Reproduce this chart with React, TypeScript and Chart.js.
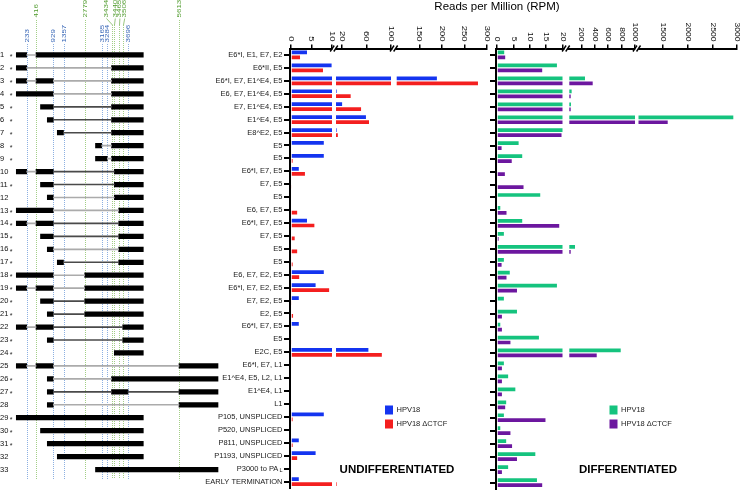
import React, { useEffect, useRef } from "react";
import { Chart, registerables } from "chart.js";

Chart.register(...registerables);

// ---------------- DATA ----------------
const ROW_LABELS = [
  "E6*I, E1, E7, E2", "E6*II, E5", "E6*I, E7, E1^E4, E5", "E6, E7, E1^E4, E5",
  "E7, E1^E4, E5", "E1^E4, E5", "E8^E2, E5", "E5", "E5", "E6*I, E7, E5", "E7, E5",
  "E5", "E6, E7, E5", "E6*I, E7, E5", "E7, E5", "E5", "E5", "E6, E7, E2, E5",
  "E6*I, E7, E2, E5", "E7, E2, E5", "E2, E5", "E6*I, E7, E5", "E5", "E2C, E5",
  "E6*I, E7, L1", "E1^E4, E5, L2, L1", "E1^E4, L1", "L1", "P105, UNSPLICED",
  "P520, UNSPLICED", "P811, UNSPLICED", "P1193, UNSPLICED", "P3000 to PA",
  "EARLY TERMINATION",
];
// subscript appended to a row label
const ROW_SUBSCRIPTS = [
  "", "", "", "", "", "", "", "", "", "", "", "", "", "", "", "", "",
  "", "", "", "", "", "", "", "", "", "", "", "", "", "", "", "L", "",
];
const ROW_NUMBERS = [
  "1", "2", "3", "4", "5", "6", "7", "8", "9", "10", "11", "12", "13", "14", "15", "16", "17",
  "18", "19", "20", "21", "22", "23", "24", "25", "26", "27", "28", "29", "30", "31", "32", "33", "",
];
const ROW_STARRED = [1, 1, 1, 1, 1, 1, 1, 1, 1, 0, 1, 0, 1, 1, 1, 1, 1, 1, 1, 1, 1, 0, 1, 1, 0, 1, 1, 0, 1, 1, 1, 0, 0, 0];

const SERIES_NAMES = ["HPV18", "HPV18 \u0394CTCF"];

const UNDIFF_HPV18 = [3.9, 9.9, 189, 11, 20, 59, 11, 8, 8, 1.9, 0, 0, 0, 3.9, 0, 0, 0, 8, 6, 1.9, 0, 1.9, 0, 63, 0, 0, 0, 0, 8, 0, 1.9, 6, 0, 1.9];
const UNDIFF_DCTCF = [2.2, 7.8, 280, 34, 51, 64, 13, 0, 0.4, 3.4, 0.2, 0, 1.5, 5.7, 0.9, 1.5, 0.4, 2, 9.3, 0.2, 0.5, 0, 0.2, 85, 0, 0, 0, 0, 0.4, 0, 0.4, 1.5, 0, 11];
const DIFF_HPV18 = [2.2, 18.3, 254, 55, 45, 2925, 20, 6.6, 7.7, 0, 0, 13.2, 1, 7.7, 2.1, 105, 2.1, 3.9, 18.3, 2.1, 6.1, 1, 12.8, 787, 2.1, 3.4, 5.6, 2.8, 2.1, 1, 2.8, 11.7, 3.4, 12.2];
const DIFF_DCTCF = [2.5, 13.8, 369, 41, 41, 1593, 19.7, 1.4, 4.5, 2.4, 8.1, 0, 2.9, 19, 0.5, 41, 1.4, 2.9, 6.1, 0, 1.5, 1.5, 4.1, 429, 1.5, 1.5, 1.5, 2.5, 14.8, 4.1, 4.6, 6.1, 1.5, 13.8];

const UNDIFF_TICKS = [0, 5, 10, 20, 60, 100, 150, 200, 250, 300];
const DIFF_TICKS = [0, 5, 10, 15, 20, 200, 400, 600, 800, 1000, 1500, 2000, 2500, 3000];

// splice sites (genome coordinates)
const SITES_BLUE = [233, 929, 1357, 3165, 3284, 3696];
const SITES_GREEN = [416, 2779, 3434, 3440, 3465, 3506, 5613];

// exons of each transcript (genome coordinates)
const EXONS: number[][][] = [
  [[105, 233], [416, 4270]],
  [[105, 233], [3434, 4270]],
  [[105, 233], [416, 929], [3434, 4270]],
  [[105, 929], [3434, 4270]],
  [[520, 929], [3434, 4270]],
  [[811, 929], [3434, 4270]],
  [[1193, 1357], [3434, 4270]],
  [[3000, 3165], [3434, 4270]],
  [[3000, 3284], [3434, 4270]],
  [[105, 233], [416, 929], [3440, 4270]],
  [[520, 929], [3440, 4270]],
  [[811, 929], [3440, 4270]],
  [[105, 929], [3465, 4270]],
  [[105, 233], [416, 929], [3465, 4270]],
  [[520, 929], [3465, 4270]],
  [[811, 929], [3465, 4270]],
  [[1193, 1357], [3465, 4270]],
  [[105, 929], [2779, 4270]],
  [[105, 233], [416, 929], [2779, 4270]],
  [[520, 929], [2779, 4270]],
  [[811, 929], [2779, 4270]],
  [[105, 233], [416, 929], [3506, 4270]],
  [[811, 929], [3506, 4270]],
  [[3440, 4270]],
  [[105, 233], [416, 929], [5613, 7299]],
  [[811, 929], [3434, 7299]],
  [[811, 929], [3434, 3696], [5613, 7299]],
  [[811, 929], [5613, 7299]],
  [[105, 4270]],
  [[520, 4270]],
  [[811, 4270]],
  [[1193, 4270]],
  [[3000, 7299]],
];
// intron class per transcript ('a' light, 'b' dark)
const INTRON_CLASS: string[][] = [
  ["a"], ["a"], ["a", "a"], ["a"], ["b"], ["b"], ["b"], ["a"], ["a"], ["a", "b"], ["b"],
  ["a"], ["a"], ["a", "b"], ["b"], ["a"], ["b"], ["a"], ["a", "a"], ["b"], ["b"], ["a", "b"],
  ["b"], [], ["a", "a"], ["a"], ["b", "b"], ["a"], [], [], [], [], [],
];

// ---------------- STYLE / AXIS CONFIG ----------------
const FONT = '"Liberation Sans", Arial, Helvetica, sans-serif';
const C_BLUE = "#1434f0";
const C_RED = "#f41f1f";
const C_GREEN = "#15c37e";
const C_PURPLE = "#6c179f";

// schematic (non-linear) genome axis of the transcript map
const SCHEM_GENOME = [105, 233, 416, 520, 811, 929, 1193, 1357, 2779, 3000, 3165, 3284, 3434, 3440, 3465, 3506, 3696, 4270, 5613, 7299];
const SCHEM_UNIT = [16.3, 26.7, 36, 40.5, 47.3, 53.3, 57.3, 63.5, 84.7, 95.5, 101.7, 107.3, 111.5, 114.3, 118.7, 122.7, 128, 143.3, 179, 218];

function schematic(g: number): number {
  const G = SCHEM_GENOME, P = SCHEM_UNIT;
  if (g <= G[0]) return P[0];
  for (let i = 1; i < G.length; i++) {
    if (g <= G[i]) return P[i - 1] + ((g - G[i - 1]) / (G[i] - G[i - 1])) * (P[i] - P[i - 1]);
  }
  return P[P.length - 1];
}

type Seg = { lo: number; hi: number; a: number; b: number };
const UNDIFF_AXIS: Seg[] = [
  { lo: 0, hi: 10, a: 0, b: 41 },
  { lo: 10, hi: 100, a: 45, b: 100 },
  { lo: 100, hi: 300, a: 105.7, b: 196 },
];
const DIFF_AXIS: Seg[] = [
  { lo: 0, hi: 20, a: 0, b: 65.5 },
  { lo: 20, hi: 1000, a: 72.3, b: 138 },
  { lo: 1000, hi: 3000, a: 141.5, b: 240 },
];

function brokenPos(segs: Seg[], v: number): number {
  for (const s of segs) {
    if (v <= s.hi) return s.a + ((v - s.lo) / (s.hi - s.lo)) * (s.b - s.a);
  }
  return segs[segs.length - 1].b;
}
function pieces(segs: Seg[], values: number[], k: number) {
  const s = segs[k];
  return values.map((v) =>
    v > s.lo ? [s.a, s.a + ((Math.min(v, s.hi) - s.lo) / (s.hi - s.lo)) * (s.b - s.a)] : null
  );
}

// ---------------- CHART CONFIGS ----------------
const LEADER_SHIFT: Record<number, number> = { 3434: -5.5, 3440: 0.5, 3465: 0.7, 3506: 1.5 };

function diagramConfig(): any {
  const datasets: any[] = [];
  for (let k = 0; k < 2; k++) {
    datasets.push({
      data: [...EXONS.map((ex) => (ex[k + 1] ? [schematic(ex[k][1]), schematic(ex[k + 1][0])] : null)), null],
      backgroundColor: EXONS.map((_, i) => (INTRON_CLASS[i][k] === "b" ? "#4a4a4a" : "#ababab")),
      maxBarThickness: 1,
    });
  }
  for (let k = 0; k < 3; k++) {
    datasets.push({
      data: [...EXONS.map((ex) => (ex[k] ? [schematic(ex[k][0]), schematic(ex[k][1])] : null)), null],
      backgroundColor: "#000",
      maxBarThickness: 4.6,
    });
  }

  const sitePlugin = {
    id: "siteMarks",
    beforeDatasetsDraw(chart: any) {
      const { ctx } = chart;
      const xs = chart.scales.x;
      ctx.save();
      ctx.lineWidth = 1;
      ctx.setLineDash([1, 1]);
      SITES_BLUE.forEach((s) => {
        const px = Math.round(xs.getPixelForValue(schematic(s))) + 0.5;
        ctx.strokeStyle = "#8cb0e2";
        ctx.beginPath();
        ctx.moveTo(px, 44);
        ctx.lineTo(px, 479);
        ctx.stroke();
      });
      SITES_GREEN.forEach((s) => {
        const px = Math.round(xs.getPixelForValue(schematic(s))) + 0.5;
        ctx.strokeStyle = "#a3cf86";
        ctx.beginPath();
        ctx.moveTo(px, LEADER_SHIFT[s] !== undefined ? 25 : 20);
        ctx.lineTo(px, 479);
        ctx.stroke();
      });
      ctx.restore();
    },
    afterDraw(chart: any) {
      const { ctx } = chart;
      const xs = chart.scales.x;
      const ys = chart.scales.y;
      ctx.save();
      ctx.font = `8px ${FONT}`;
      const drawUp = (txt: string, x: number, yb: number, color: string) => {
        ctx.save();
        ctx.translate(x, yb);
        ctx.rotate(-Math.PI / 2);
        ctx.scale(1, 0.72);
        ctx.fillStyle = color;
        ctx.textAlign = "left";
        ctx.textBaseline = "middle";
        ctx.fillText(txt, 0, 0);
        ctx.restore();
      };
      SITES_BLUE.forEach((s) => {
        const px = xs.getPixelForValue(schematic(s));
        drawUp(String(s), px + 0.5, 42.5, "#3262b4");
      });
      SITES_GREEN.forEach((s) => {
        const px = xs.getPixelForValue(schematic(s));
        const shift = LEADER_SHIFT[s];
        if (shift !== undefined) {
          drawUp(String(s), px + shift + 0.5, 17.5, "#4e9a2b");
          ctx.strokeStyle = "#7fb85f";
          ctx.lineWidth = 0.8;
          ctx.beginPath();
          ctx.moveTo(px + shift + 0.5, 18.5);
          ctx.lineTo(Math.round(px) + 0.5, 25);
          ctx.stroke();
        } else {
          drawUp(String(s), px + 0.5, 17.5, "#4e9a2b");
        }
      });
      // asterisks marking rows
      ctx.fillStyle = "#222";
      ctx.textAlign = "center";
      ctx.textBaseline = "alphabetic";
      ctx.font = `7px ${FONT}`;
      ROW_STARRED.forEach((st, i) => {
        if (!st) return;
        const y = ys.getPixelForValue(i);
        ctx.fillText("*", 11, y + 4.2);
      });
      ctx.restore();
    },
  };

  return {
    type: "bar",
    data: { labels: ROW_NUMBERS, datasets },
    options: {
      indexAxis: "y",
      responsive: false,
      animation: false,
      events: [],
      layout: { padding: { left: 0, top: 48.5, right: 520, bottom: 5 } },
      datasets: { bar: { grouped: false, categoryPercentage: 1, barPercentage: 1, borderWidth: 0 } },
      plugins: { legend: { display: false }, tooltip: { enabled: false } },
      scales: {
        x: { type: "linear", display: false, min: 14, max: 220, bounds: "data", stacked: false },
        y: {
          type: "category",
          offset: true,
          grid: { display: false, drawTicks: false },
          border: { display: false },
          ticks: { autoSkip: false, crossAlign: "far", padding: 0, font: { family: FONT, size: 7.5 }, color: "#111" },
          afterFit: (s: any) => {
            s.width = 14;
          },
        },
      },
    },
    plugins: [sitePlugin],
  };
}

type BrokenOpts = {
  segs: Seg[];
  ticks: number[];
  tickFont: number;
  values: number[][];
  colors: string[];
  yWidth: number;
  xMax: number;
  showLabels: boolean;
  legendX: number;
  panel: string;
  panelX: number;
  title?: string;
};

const Y_TICK_LEN = 6;
const Y_TICK_PAD = 1.5;

function brokenConfig(o: BrokenOpts): any {
  const datasets: any[] = [];
  o.values.forEach((vals, si) => {
    o.segs.forEach((_, k) => {
      datasets.push({
        label: SERIES_NAMES[si],
        data: pieces(o.segs, vals, k),
        backgroundColor: o.colors[si],
        borderWidth: 0,
        stack: "s" + si,
      });
    });
  });

  const deco = {
    id: "brokenDeco",
    afterDraw(chart: any) {
      const { ctx, chartArea } = chart;
      const xs = chart.scales.x;
      const ys = chart.scales.y;
      ctx.save();
      // tick labels (rotated, reading downward)
      ctx.fillStyle = "#111";
      ctx.font = `${o.tickFont}px ${FONT}`;
      o.ticks.forEach((t) => {
        const px = xs.getPixelForValue(brokenPos(o.segs, t));
        ctx.save();
        ctx.translate(px, 41.5);
        ctx.rotate(Math.PI / 2);
        ctx.scale(1, 0.8);
        ctx.textAlign = "right";
        ctx.textBaseline = "middle";
        ctx.fillText(String(t), 0, 0);
        ctx.restore();
      });
      // subscripts of row labels
      if (o.showLabels) {
        ctx.font = `5.5px ${FONT}`;
        ctx.fillStyle = "#1a1a1a";
        ctx.textAlign = "right";
        ctx.textBaseline = "middle";
        ROW_SUBSCRIPTS.forEach((sub, i) => {
          if (!sub) return;
          const y = ys.getPixelForValue(i);
          ctx.fillText(sub, chartArea.left - Y_TICK_LEN - Y_TICK_PAD, y + 2.2);
        });
      }
      // axis breaks
      for (let k = 0; k < o.segs.length - 1; k++) {
        const px = xs.getPixelForValue((o.segs[k].b + o.segs[k + 1].a) / 2);
        const y = chartArea.top;
        ctx.fillStyle = "#fff";
        ctx.fillRect(px - 1.5, y - 2, 3, 4);
        ctx.strokeStyle = "#000";
        ctx.lineWidth = 1.4;
        [-1.8, 1.8].forEach((dx) => {
          ctx.beginPath();
          ctx.moveTo(px + dx - 2, y + 3);
          ctx.lineTo(px + dx + 2, y - 3);
          ctx.stroke();
        });
      }
      // legend
      ctx.font = `7.5px ${FONT}`;
      ctx.textAlign = "left";
      ctx.textBaseline = "middle";
      SERIES_NAMES.forEach((name, i) => {
        const y0 = 405.5 + i * 14;
        ctx.fillStyle = o.colors[i];
        ctx.fillRect(o.legendX, y0, 8, 9);
        ctx.fillStyle = "#222";
        ctx.fillText(name, o.legendX + 11.5, y0 + 4.8);
      });
      // panel label
      ctx.font = `bold 11.5px ${FONT}`;
      ctx.fillStyle = "#000";
      ctx.textAlign = "center";
      ctx.fillText(o.panel, o.panelX, 469.5);
      if (o.title) {
        ctx.font = `11.5px ${FONT}`;
        ctx.fillStyle = "#000";
        ctx.fillText(o.title, 497, 6.5);
      }
      ctx.restore();
    },
  };

  return {
    type: "bar",
    data: { labels: ROW_LABELS, datasets },
    options: {
      indexAxis: "y",
      responsive: false,
      animation: false,
      events: [],
      layout: { padding: { left: 0, top: 0, right: 740 - (o.yWidth + 1 + o.xMax), bottom: 5 } },
      datasets: { bar: { categoryPercentage: 0.77, barPercentage: 0.75 } },
      plugins: { legend: { display: false }, tooltip: { enabled: false } },
      scales: {
        x: {
          type: "linear",
          position: "top",
          min: -1,
          max: o.xMax,
          bounds: "data",
          stacked: false,
          grid: {
            display: true,
            drawOnChartArea: false,
            drawTicks: true,
            tickLength: 4,
            tickWidth: 1.5,
            tickColor: "#000",
            color: "#000",
            lineWidth: 1.5,
          },
          border: { display: true, width: 2, color: "#000" },
          ticks: { display: false },
          afterBuildTicks: (s: any) => {
            s.ticks = o.ticks.map((t) => ({ value: brokenPos(o.segs, t) }));
          },
          afterFit: (s: any) => {
            s.height = 48.5;
          },
        },
        y: {
          type: "category",
          position: "left",
          offset: true,
          grid: {
            display: true,
            drawOnChartArea: false,
            drawTicks: true,
            tickLength: Y_TICK_LEN,
            tickWidth: 2,
            tickColor: "#000",
            color: "#000",
            lineWidth: 2,
            offset: false,
          },
          border: { display: true, width: 2, color: "#000" },
          ticks: {
            display: o.showLabels,
            autoSkip: false,
            padding: Y_TICK_PAD,
            font: { family: FONT, size: 7.5 },
            color: "#1a1a1a",
            callback: (_v: any, i: number) => ROW_LABELS[i] + (ROW_SUBSCRIPTS[i] ? "  " : ""),
          },
          afterFit: (s: any) => {
            s.width = o.yWidth;
          },
        },
      },
    },
    plugins: [deco],
  };
}

export default function App() {
  const leftRef = useRef<HTMLCanvasElement | null>(null);
  const midRef = useRef<HTMLCanvasElement | null>(null);
  const rightRef = useRef<HTMLCanvasElement | null>(null);

  useEffect(() => {
    const charts: Chart[] = [];
    if (leftRef.current) charts.push(new Chart(leftRef.current, diagramConfig()));
    if (midRef.current)
      charts.push(
        new Chart(
          midRef.current,
          brokenConfig({
            segs: UNDIFF_AXIS,
            ticks: UNDIFF_TICKS,
            tickFont: 9.5,
            values: [UNDIFF_HPV18, UNDIFF_DCTCF],
            colors: [C_BLUE, C_RED],
            yWidth: 290,
            xMax: 196,
            showLabels: true,
            legendX: 385,
            panel: "UNDIFFERENTIATED",
            panelX: 397,
            title: "Reads per Million (RPM)",
          })
        )
      );
    if (rightRef.current)
      charts.push(
        new Chart(
          rightRef.current,
          brokenConfig({
            segs: DIFF_AXIS,
            ticks: DIFF_TICKS,
            tickFont: 8.5,
            values: [DIFF_HPV18, DIFF_DCTCF],
            colors: [C_GREEN, C_PURPLE],
            yWidth: 496,
            xMax: 240,
            showLabels: false,
            legendX: 609.5,
            panel: "DIFFERENTIATED",
            panelX: 628,
          })
        )
      );
    return () => charts.forEach((c) => c.destroy());
  }, []);

  const cs: React.CSSProperties = { position: "absolute", left: 0, top: 0, width: 740, height: 494 };
  return (
    <div style={{ position: "fixed", left: 0, top: 0, width: 740, height: 494, background: "#fff", overflow: "hidden" }}>
      <canvas ref={leftRef} width={740} height={494} style={cs} />
      <canvas ref={midRef} width={740} height={494} style={cs} />
      <canvas ref={rightRef} width={740} height={494} style={cs} />
    </div>
  );
}
